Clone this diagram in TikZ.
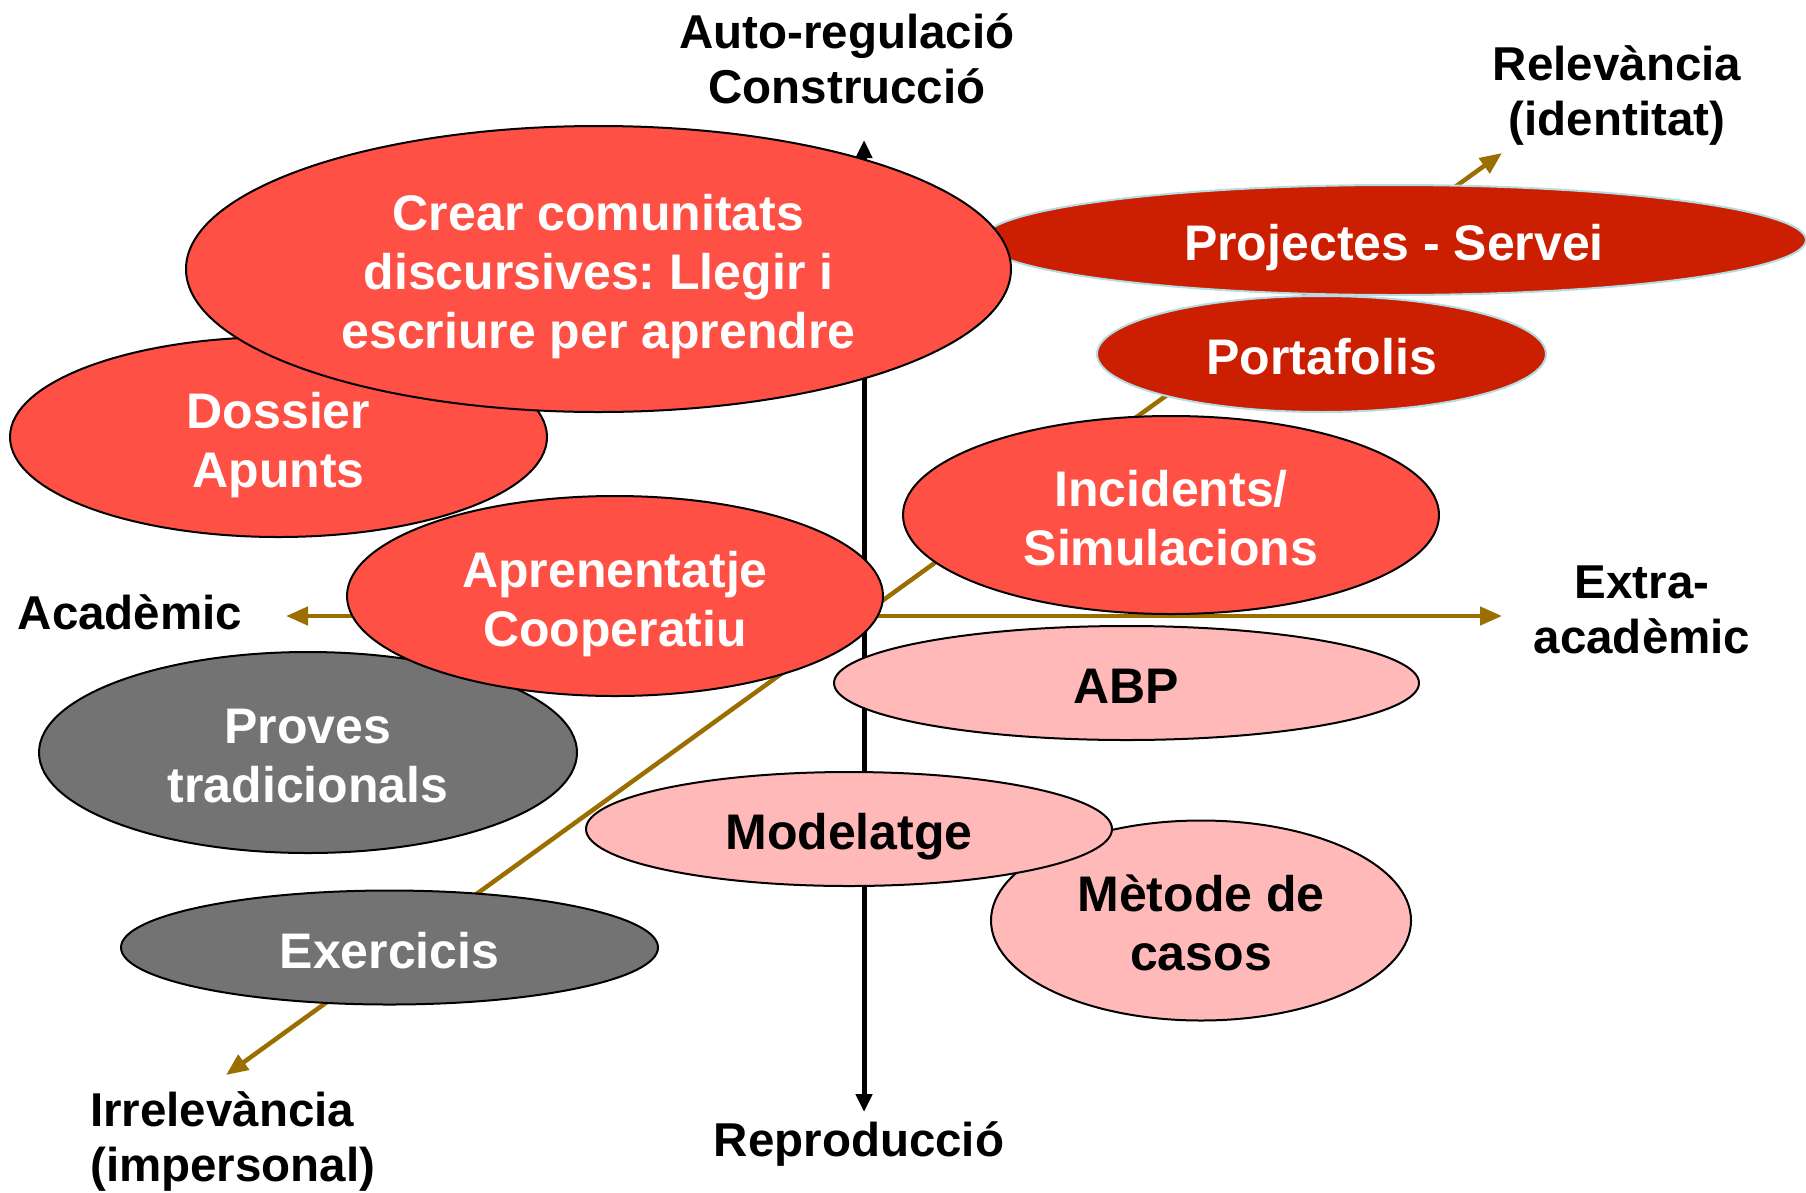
\documentclass[tikz,border=0pt]{standalone}
\usepackage{fontspec}
\setmainfont{Liberation Sans}
\usetikzlibrary{shapes.geometric,arrows.meta}
\frenchspacing
\definecolor{brightred}{HTML}{FF5045}
\definecolor{darkred}{HTML}{CC1E00}
\definecolor{pinkfill}{HTML}{FFB9B9}
\definecolor{greyfill}{HTML}{737373}
\definecolor{goldaxis}{HTML}{9A6E00}
\definecolor{paleblue}{HTML}{B5DCE2}
\newcommand\tstrut{\vrule width 0pt height 1.05em depth 0pt}
\newcommand\dstrut{\vrule width 0pt height 0pt depth 0.214em}
\tikzset{
  bubble/.style={ellipse, inner sep=0pt, outer sep=0pt, align=center,
    font=\fontsize{50}{59}\selectfont\bfseries, draw=black, line width=2pt},
  redbub/.style={bubble, fill=brightred, text=white},
  darkbub/.style={bubble, fill=darkred, text=white, draw=paleblue},
  pinkbub/.style={bubble, fill=pinkfill, text=black},
  greybub/.style={bubble, fill=greyfill, text=white},
  axislabel/.style={font=\fontsize{47.5}{55}\selectfont\bfseries, align=center, inner sep=0pt},
  blackaxis/.style={black, line width=5pt,
    {Triangle[length=18pt,width=16pt]}-{Triangle[length=18pt,width=16pt]}},
  goldaxisline/.style={goldaxis, line width=4.5pt,
    {Triangle[length=22pt,width=18pt]}-{Triangle[length=22pt,width=18pt]}},
}
\begin{document}
\begin{tikzpicture}[x=1pt,y=-1pt]
\useasboundingbox (0,0) rectangle (1806,1192);
% axes
\coordinate (vtop) at (864,140);
\coordinate (vbot) at (864,1112);
\coordinate (hleft) at (286,616);
\coordinate (hright) at (1502,616);
\coordinate (dlow) at (226,1075);
\coordinate (dhigh) at (1502,153);
\draw[blackaxis] (vbot) -- (vtop);
\draw[goldaxisline] (hleft) -- (hright);
\draw[goldaxisline] (dlow) -- (dhigh);
% bubbles
\node[redbub, minimum width=537pt, minimum height=200pt] (dossier) at (278.5,437) {\tstrut Dossier\\Apunts\dstrut};
\node[darkbub, minimum width=824pt, minimum height=110pt] (projectes) at (1394,240) {\tstrut Projectes - Servei\dstrut};
\node[redbub, minimum width=825pt, minimum height=286pt] (crear) at (598.5,269) {\tstrut Crear comunitats\\discursives: Llegir i\\escriure per aprendre\dstrut};
\node[darkbub, minimum width=449pt, minimum height=116pt] (portafolis) at (1321.5,354) {\tstrut Portafolis\dstrut};
\node[greybub, minimum width=538pt, minimum height=201pt] (proves) at (308,752.5) {\tstrut Proves\\tradicionals\dstrut};
\node[redbub, minimum width=536pt, minimum height=200pt] (aprenentatge) at (615,596) {\tstrut Aprenentatje\\Cooperatiu\dstrut};
\node[redbub, minimum width=536pt, minimum height=198pt] (incidents) at (1171,515) {\tstrut Incidents/\\Simulacions\dstrut};
\node[pinkbub, minimum width=585pt, minimum height=114pt] (abp) at (1126.5,683) {\tstrut ABP\dstrut};
\node[pinkbub, minimum width=420pt, minimum height=200pt] (metode) at (1201,920.5) {\tstrut Mètode de\\casos\dstrut};
\node[pinkbub, minimum width=526pt, minimum height=114pt] (modelatge) at (849,829) {\tstrut Modelatge\dstrut};
\node[greybub, minimum width=537pt, minimum height=114pt] (exercicis) at (389.5,947.5) {\tstrut Exercicis\dstrut};
% axis labels
\node[axislabel] (lblconstr) at (847,59) {Auto-regulació\\Construcció};
\node[axislabel] (lblrel) at (1617,95.5) {Relevància\\(identitat)};
\node[axislabel] (lblacad) at (130,612) {Acadèmic};
\node[axislabel] (lblextra) at (1642,610) {Extra-\\acadèmic};
\node[axislabel, align=left, anchor=west] (lblirr) at (90,1141) {Irrelevància\\(impersonal)};
\node[axislabel] (lblrepro) at (859,1144) {Reproducció};
\end{tikzpicture}
\end{document}
